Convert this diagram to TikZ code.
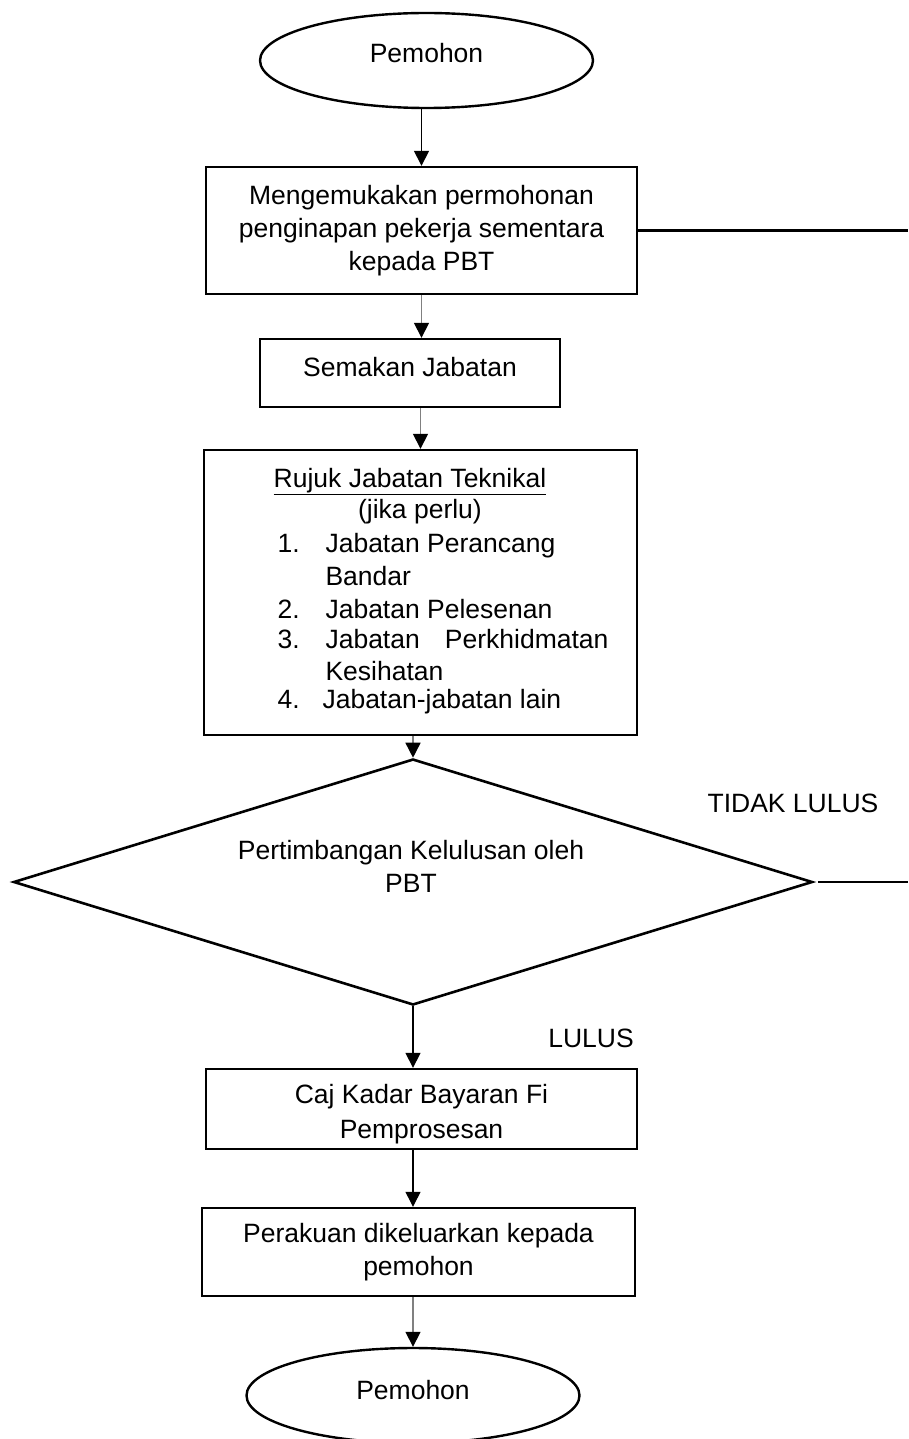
\documentclass[tikz,border=0pt]{standalone}
\usepackage{fontspec}
\setmainfont{Liberation Sans}
\usetikzlibrary{shapes.geometric, arrows.meta, positioning}

\tikzset{
	kotak/.style={draw, line width=2.4pt, align=center, inner sep=0pt},
	hujung/.style={draw, ellipse, line width=2.4pt, inner sep=0pt, minimum width=333pt, minimum height=95pt},
	putusan/.style={draw, diamond, line width=2.6pt, inner sep=0pt, aspect=3.25},
	aliran/.style={line width=1.6pt, -{Triangle[length=15pt, width=15pt, color=black]}},
	kelabu/.style={aliran, draw=gray},
}

\begin{document}
\begin{tikzpicture}[x=1pt, y=-1pt, font=\fontsize{26.5}{33}\selectfont]
	\useasboundingbox (0,0) rectangle (908,1439);
	\coordinate (kanan) at (908,0);

	% kotak utama
	\node[hujung, text depth=16pt] (mula) at (426.5,60.5) {Pemohon};
	\node[kotak, minimum width=431pt, minimum height=127pt] (mohon) at (421.5,230.5)
		{Mengemukakan permohonan\\penginapan pekerja sementara\\kepada PBT};
	\node[kotak, minimum width=300pt, minimum height=68pt, text depth=12pt] (semak) at (410,373) {Semakan Jabatan};
	\node[kotak, minimum width=433pt, minimum height=285pt] (rujuk) at (420.5,592.5) {};
	\node[putusan, minimum width=799pt, minimum height=246pt] (timbang) at (413,882) {};
	\node[kotak, minimum width=431pt, minimum height=80pt] (caj) at (421.5,1109)
		{\rule{0pt}{30pt}Caj Kadar Bayaran Fi\\[2pt]Pemprosesan};
	\node[kotak, minimum width=433pt, minimum height=88pt] (akuan) at (418.5,1252)
		{Perakuan dikeluarkan kepada\\pemohon};
	\node[hujung, text depth=11pt] (akhir) at (413,1395.5) {Pemohon};

	% isi kotak rujuk
	\node[anchor=base] (tajuk) at (410,487) {\underline{Rujuk Jabatan Teknikal}};
	\node[anchor=base] (perlu) at (420,518) {(jika perlu)};
	\node[anchor=base west] (n1) at (274,552) {1.};
	\node[anchor=base west] (j1) at (322,552) {Jabatan Perancang};
	\node[anchor=base west] (j1b) at (322,585) {Bandar};
	\node[anchor=base west] (n2) at (274,618) {2.};
	\node[anchor=base west] (j2) at (322,618) {Jabatan Pelesenan};
	\node[anchor=base west] (n3) at (274,648) {3.};
	\node[anchor=base west] (j3) at (322,648) {Jabatan};
	\node[anchor=base east] (j3a) at (612,648) {Perkhidmatan};
	\node[anchor=base west] (j3b) at (322,680) {Kesihatan};
	\node[anchor=base west] (n4) at (274,708) {4.};
	\node[anchor=base west] (j4) at (319,708) {Jabatan-jabatan lain};

	% teks dalam putusan dan label
	\node[align=center] (soalan) at (411,866) {Pertimbangan Kelulusan oleh\\PBT};
	\node (tidak) at (793,803) {TIDAK LULUS};
	\node (lulus) at (591,1038) {LULUS};

	% anak panah
	\draw[aliran] (mohon.north |- mula.south) -- (mohon.north);
	\draw[kelabu] (mohon.south) -- (mohon.south |- semak.north);
	\draw[kelabu] (rujuk.north |- semak.south) -- (rujuk.north);
	\draw[kelabu] (timbang.north |- rujuk.south) -- (timbang.north);
	\draw[aliran] (timbang.south) -- (timbang.south |- caj.north);
	\draw[aliran, line width=1.2pt] (akhir.north |- caj.south) -- (akhir.north |- akuan.north);
	\draw[kelabu] (akhir.north |- akuan.south) -- (akhir.north);

	% garisan ke kanan
	\draw[line width=2.2pt] (mohon.east) -- (mohon.east -| kanan);
	\draw[line width=2.2pt] ([xshift=4pt]timbang.east) -- (timbang.east -| kanan);
\end{tikzpicture}
\end{document}
